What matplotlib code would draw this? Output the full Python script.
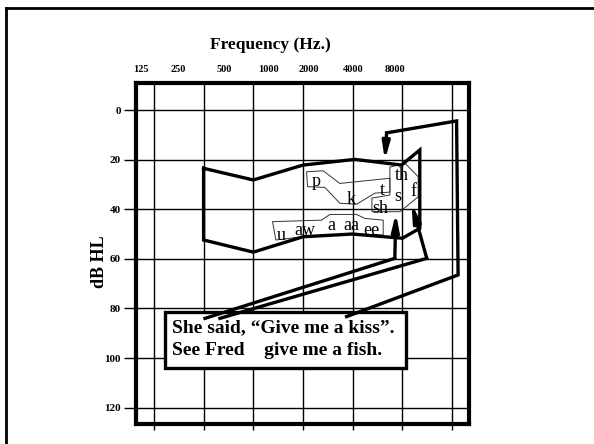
import matplotlib.pyplot as plt
from matplotlib.lines import Line2D
from matplotlib.patches import Polygon

plt.rcParams['font.family'] = ['Liberation Serif', 'DejaVu Serif']

# Audiogram grid
freqs = [125, 250, 500, 1000, 2000, 4000, 8000]
freq_labels = ['125', '250', '500', '1000', '2000', '4000', '8000']
db_ticks = [0, 20, 40, 60, 80, 100, 120]

# Speech banana outline (Hz, dB HL)
banana_f = [250, 500, 1000, 2060, 3950, 5100, 5100, 4000, 1990, 1000, 500, 250, 250]
banana_db = [23.5, 28.2, 22.2, 19.9, 22.2, 16.1, 47.7, 51.7, 50.0, 51.1, 57.3, 52.4, 23.5]

# Phoneme regions
pkt_f = [1051, 1325, 1673, 3360, 3360, 2726, 2111, 1673, 1357, 1066]
pkt_db = [24.9, 24.5, 29.6, 27.5, 33.1, 33.5, 38.0, 37.6, 31.2, 30.9]
thsf_f = [3360, 3975, 4200, 4987, 4987, 3862, 2614, 2614, 3360]
thsf_db = [23.0, 21.8, 21.8, 26.9, 35.0, 41.0, 41.0, 35.5, 34.3]
vowel_f = [654, 1296, 1455, 2111, 2371, 3061, 3061, 1978, 985, 685]
vowel_db = [45.0, 44.4, 42.1, 42.1, 43.7, 44.4, 50.4, 50.0, 51.1, 52.4]

phonemes = ['p', 'k', 't', 'th', 's', 'f', 'sh', 'u', 'aw', 'a', 'aa', 'ee']
phon_f = [1209, 1970, 3019, 3990, 3740, 4650, 2920, 742, 1027, 1490, 1970, 2603]
phon_db = [28.9, 36.0, 32.3, 26.6, 35.0, 32.9, 39.6, 50.4, 48.4, 46.4, 46.7, 48.4]

# Leader lines from the sentence box (last point = arrow tip)
lead_a_f = [255, 3600, 3650]
lead_a_db = [84.0, 59.8, 41.6]
lead_b_f = [314, 5620, 4550]
lead_b_db = [84.0, 59.8, 37.9]
lead_c_f = [1837, 8700, 8520, 3210, 3135]
lead_c_db = [83.3, 66.5, 4.4, 9.2, 20.2]

# Sentence box
box_f = [145.7, 4199]
box_db = [81.3, 104.2]
sentence1 = 'She said, \u201cGive me a kiss\u201d.'
sentence2 = 'See Fred    give me a fish.'

fig = plt.figure(figsize=(5.94, 4.44), dpi=100)
ax = fig.add_axes([136/594, 1-424/444, 333/594, 341/444])
ax.set_xscale('log', base=2)
ax.set_xlim(97.4, 10130)
ax.set_ylim(126.6, -10.9)

ax.set_xticks(freqs)
ax.set_xticklabels([])
ax.minorticks_off()
ax.set_yticks(db_ticks)
ax.set_yticklabels([str(d) for d in db_ticks], fontsize=8, fontweight='bold')
ax.tick_params(axis='x', length=4, width=1, direction='out')
ax.tick_params(axis='y', length=9, width=1, direction='out', pad=2)
ax.grid(True, color='black', linewidth=1)
for s in ax.spines.values():
    s.set_linewidth(3)

# top frequency labels
label_px = [141, 178, 224, 268, 309, 353, 395]
for px, lab in zip(label_px, freq_labels):
    fig.text(px/594, 1-69/444, lab, ha='center', va='center',
             fontsize=7.5, fontweight='bold')

fig.text(270/594, 1-45/444, 'Frequency (Hz.)', ha='center', va='center',
         fontsize=12.5, fontweight='bold')
fig.text(100/594, 1-262/444, 'dB HL', ha='center', va='center',
         rotation=90, fontsize=13, fontweight='bold')

# banana
ax.plot(banana_f, banana_db, color='black', lw=2.4, solid_joinstyle='miter', zorder=4)

# phoneme regions
for pf, pdb in [(pkt_f, pkt_db), (thsf_f, thsf_db), (vowel_f, vowel_db)]:
    ax.add_patch(Polygon(list(zip(pf, pdb)), closed=True, fill=False,
                         edgecolor='#333333', lw=0.7, zorder=3))
for lab, f, d in zip(phonemes, phon_f, phon_db):
    ax.text(f, d, lab, ha='center', va='center', fontsize=13, zorder=5)

# sentence box
ax.add_patch(Polygon([(box_f[0], box_db[0]), (box_f[1], box_db[0]),
                      (box_f[1], box_db[1]), (box_f[0], box_db[1])],
                     closed=True, facecolor='white', edgecolor='black', lw=2.4, zorder=5))
ax.text(160, 87.9, sentence1, ha='left', va='center', fontsize=14,
        fontweight='bold', zorder=7)
ax.text(160, 96.8, sentence2, ha='left', va='center', fontsize=14,
        fontweight='bold', zorder=7)

# leader lines with arrows
for lf, ld in [(lead_a_f, lead_a_db), (lead_b_f, lead_b_db), (lead_c_f, lead_c_db)]:
    ax.plot(lf[:-1], ld[:-1], color='black', lw=2.4, solid_joinstyle='miter', zorder=6)
    ax.annotate('', xy=(lf[-1], ld[-1]), xytext=(lf[-2], ld[-2]),
                arrowprops=dict(arrowstyle='-|>,head_length=1.0,head_width=0.22',
                                color='black', lw=2.4, shrinkA=0, shrinkB=0),
                zorder=6)

# outer border (top and left)
fig.add_artist(Line2D([6/594, 6/594], [0, 1-8/444], color='black', lw=2))
fig.add_artist(Line2D([6/594, 1], [1-8/444, 1-8/444], color='black', lw=2))

fig.savefig('out.png', dpi=100)
